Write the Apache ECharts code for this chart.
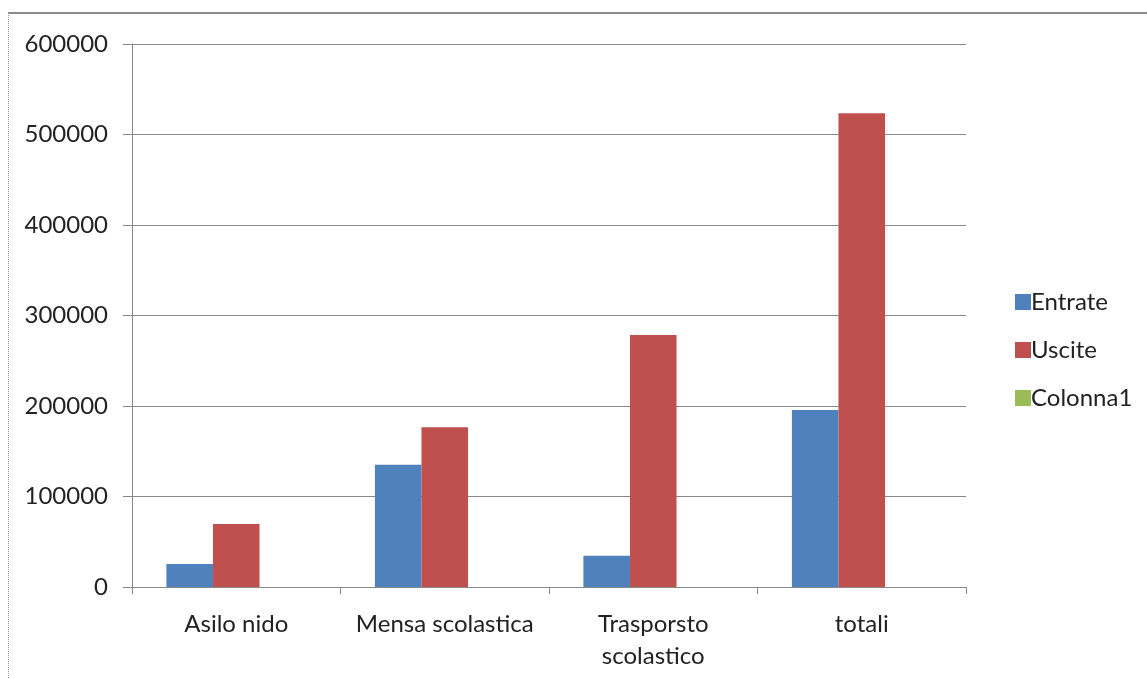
<!DOCTYPE html>
<html>
<head>
<meta charset="utf-8">
<script src="https://cdn.jsdelivr.net/npm/echarts@6/dist/echarts.min.js"></script>
<style>
  html, body { margin: 0; padding: 0; background: #fff; }
  #chart { width: 1147px; height: 678px; }
  .frame {
    position: absolute; left: 8px; top: 12px; right: -2px; bottom: -2px;
    border-top: 2px solid #8a8a8a;
    border-left: 1px dotted #999;
    pointer-events: none;
  }
</style>
</head>
<body>
<div id="chart"></div>
<div class="frame"></div>
<script>
const categories = ['Asilo nido', 'Mensa scolastica', 'Trasporsto\nscolastico', 'totali'];
const entrate = [25500, 135000, 34500, 195500];
const uscite = [69500, 176500, 278500, 523500];
const colonna1 = [null, null, null, null];

const chart = echarts.init(document.getElementById('chart'));
const font = 'Lato, sans-serif';
chart.setOption({
  animation: false,
  grid: { left: 132, right: 181, top: 44, bottom: 91 },
  legend: {
    orient: 'vertical',
    left: 1010, top: 285,
    itemWidth: 16, itemHeight: 16, itemGap: 24,
    icon: 'rect',
    textStyle: { fontFamily: font, fontSize: 24, color: '#222', padding: [0, 0, 0, -5] },
    data: ['Entrate', 'Uscite', 'Colonna1']
  },
  xAxis: {
    type: 'category',
    data: categories,
    axisLine: { lineStyle: { color: '#888', width: 1 } },
    axisTick: { show: true, length: 7, lineStyle: { color: '#888' } },
    axisLabel: { interval: 0, fontFamily: font, fontSize: 24, color: '#222', margin: 21, lineHeight: 32 }
  },
  yAxis: {
    type: 'value',
    min: 0, max: 600000, interval: 100000,
    axisLine: { show: true, lineStyle: { color: '#888', width: 1 } },
    axisTick: { show: true, length: 9, lineStyle: { color: '#888' } },
    splitLine: { lineStyle: { color: '#888', width: 1 } },
    axisLabel: { fontFamily: font, fontSize: 24, color: '#222', margin: 24, formatter: v => String(v) }
  },
  series: [
    { name: 'Entrate', type: 'bar', data: entrate, itemStyle: { color: '#4F81BD' }, barGap: '0%', barCategoryGap: '33%' },
    { name: 'Uscite', type: 'bar', data: uscite, itemStyle: { color: '#C0504D' } },
    { name: 'Colonna1', type: 'bar', data: colonna1, itemStyle: { color: '#9BBB59' } }
  ]
});
</script>
</body>
</html>
